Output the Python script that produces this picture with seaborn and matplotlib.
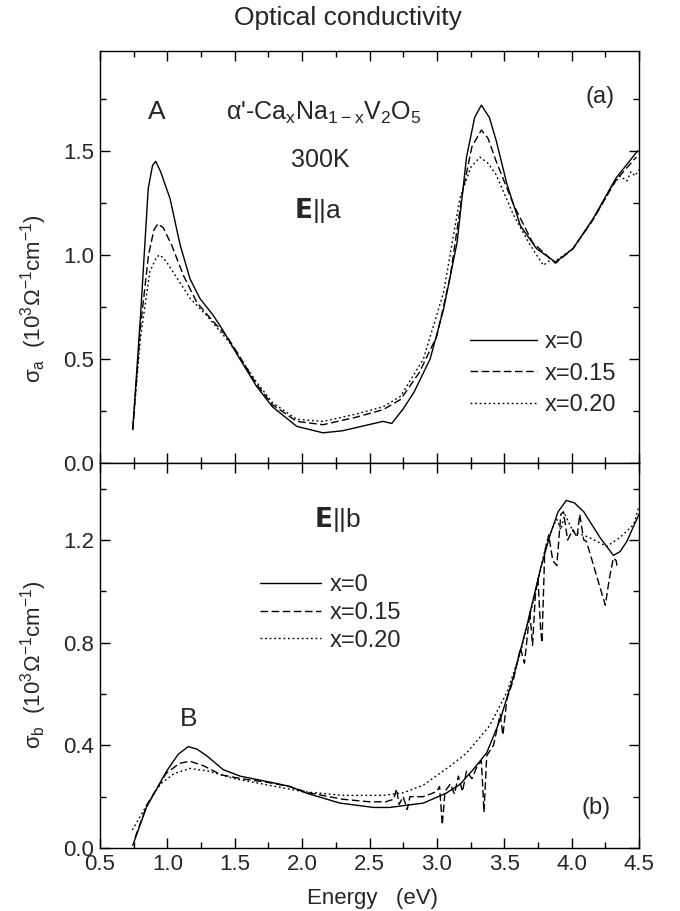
import numpy as np
import pandas as pd
import matplotlib
matplotlib.use("Agg")
import matplotlib.pyplot as plt
import seaborn as sns
from matplotlib.ticker import MultipleLocator, FormatStrFormatter

# sigma_a, E||a
ea_x0 = [0.743, 0.80, 0.858, 0.89, 0.913, 0.95, 1.02, 1.094, 1.168, 1.242, 1.34, 1.41, 1.51,
         1.66, 1.78, 1.96, 2.155, 2.30, 2.40, 2.50, 2.60, 2.665, 2.75, 2.83, 2.95, 3.05, 3.15,
         3.22, 3.28, 3.33, 3.39, 3.44, 3.52, 3.62, 3.74, 3.88, 4.01, 4.16, 4.33, 4.49]
sa_x0 = [0.16, 0.70, 1.32, 1.43, 1.45, 1.40, 1.27, 1.05, 0.885, 0.79, 0.71, 0.64, 0.53,
         0.37, 0.27, 0.176, 0.145, 0.155, 0.17, 0.185, 0.20, 0.19, 0.26, 0.34, 0.50, 0.74, 1.06,
         1.47, 1.66, 1.72, 1.66, 1.55, 1.34, 1.14, 1.03, 0.965, 1.03, 1.175, 1.37, 1.50]

ea_x15 = [0.743, 0.80, 0.86, 0.90, 0.93, 0.97, 1.03, 1.12, 1.22, 1.34, 1.44, 1.51, 1.66, 1.78,
          1.96, 2.155, 2.40, 2.60, 2.73, 2.87, 3.00, 3.10, 3.19, 3.26, 3.33, 3.38, 3.44, 3.57,
          3.71, 3.88, 4.01, 4.16, 4.33, 4.48]
sa_x15 = [0.16, 0.65, 1.00, 1.12, 1.15, 1.13, 1.05, 0.90, 0.77, 0.68, 0.61, 0.54, 0.38, 0.28,
          0.20, 0.184, 0.22, 0.256, 0.305, 0.435, 0.61, 0.90, 1.30, 1.52, 1.60, 1.56, 1.45, 1.24,
          1.06, 0.96, 1.03, 1.17, 1.36, 1.47]

ea_x20 = [0.743, 0.80, 0.87, 0.92, 0.945, 0.99, 1.04, 1.17, 1.29, 1.46, 1.66, 1.78, 1.96, 2.155,
          2.40, 2.60, 2.73, 2.90, 3.05, 3.17, 3.25, 3.32, 3.38, 3.44, 3.57, 3.69, 3.76, 3.79,
          3.83, 3.89, 4.01, 4.16, 4.30, 4.36, 4.41, 4.44, 4.47, 4.50]
sa_x20 = [0.17, 0.60, 0.92, 0.99, 1.00, 0.97, 0.92, 0.79, 0.71, 0.58, 0.39, 0.29, 0.21, 0.20,
          0.235, 0.27, 0.32, 0.50, 0.82, 1.27, 1.42, 1.47, 1.44, 1.385, 1.19, 1.05, 0.98, 0.95,
          0.97, 0.975, 1.03, 1.17, 1.33, 1.38, 1.355, 1.40, 1.38, 1.41]

# sigma_b, E||b
eb_x0 = [0.743, 0.846, 0.995, 1.08, 1.155, 1.22, 1.29, 1.415, 1.54, 1.786, 1.91, 2.03, 2.28,
         2.53, 2.65, 2.90, 3.07, 3.17, 3.27, 3.37, 3.47, 3.57, 3.67, 3.77, 3.84, 3.90, 3.96,
         4.02, 4.09, 4.21, 4.31, 4.36, 4.41, 4.50]
sb_x0 = [0.01, 0.16, 0.30, 0.365, 0.395, 0.385, 0.36, 0.305, 0.28, 0.254, 0.24, 0.214, 0.175,
         0.158, 0.158, 0.175, 0.214, 0.247, 0.306, 0.371, 0.50, 0.67, 0.87, 1.09, 1.22, 1.31,
         1.354, 1.345, 1.31, 1.21, 1.14, 1.155, 1.195, 1.30]

eb_x15 = [0.76, 0.85, 0.99, 1.09, 1.168, 1.27, 1.40, 1.55, 1.75, 1.90, 2.05, 2.30, 2.50, 2.62,
          2.68, 2.70, 2.72, 2.75, 2.78, 2.80, 2.90, 2.95, 3.00, 3.02, 3.04, 3.06, 3.10, 3.13,
          3.16, 3.19, 3.22, 3.26, 3.30, 3.33, 3.35, 3.37, 3.42, 3.47, 3.49, 3.52, 3.57, 3.62,
          3.65, 3.69, 3.71, 3.73, 3.75, 3.77, 3.78, 3.80, 3.83, 3.86, 3.89, 3.92, 3.94, 3.97,
          4.01, 4.04, 4.06, 4.09, 4.11, 4.18, 4.25, 4.28, 4.31, 4.33, 4.34]
sb_x15 = [0.04, 0.17, 0.29, 0.33, 0.338, 0.32, 0.285, 0.27, 0.255, 0.24, 0.215, 0.19, 0.18, 0.18,
          0.19, 0.23, 0.17, 0.20, 0.15, 0.20, 0.20, 0.21, 0.22, 0.24, 0.09, 0.22, 0.25, 0.21,
          0.28, 0.22, 0.30, 0.27, 0.32, 0.34, 0.14, 0.36, 0.40, 0.52, 0.44, 0.58, 0.66, 0.78,
          0.72, 0.92, 0.79, 0.98, 1.05, 0.85, 0.80, 1.15, 1.22, 1.12, 1.10, 1.30, 1.31, 1.20,
          1.24, 1.21, 1.30, 1.20, 1.195, 1.07, 0.946, 1.05, 1.13, 1.12, 1.09]

eb_x20 = [0.74, 0.85, 0.95, 1.05, 1.168, 1.30, 1.50, 1.75, 2.00, 2.30, 2.60, 2.75, 2.90, 3.02,
          3.10, 3.22, 3.39, 3.52, 3.62, 3.72, 3.81, 3.86, 3.89, 3.92, 3.95, 4.01, 4.13, 4.26,
          4.36, 4.46, 4.50]
sb_x20 = [0.07, 0.17, 0.25, 0.29, 0.31, 0.30, 0.27, 0.245, 0.22, 0.205, 0.205, 0.215, 0.245, 0.29,
          0.32, 0.37, 0.475, 0.607, 0.76, 0.97, 1.18, 1.25, 1.28, 1.24, 1.30, 1.234, 1.21, 1.175,
          1.21, 1.26, 1.33]

labels = ["x=0", "x=0.15", "x=0.20"]

sns.set_style("ticks")
plt.rcParams['font.family'] = ['Liberation Sans', 'DejaVu Sans']
plt.rcParams['mathtext.default'] = 'regular'
plt.rcParams['axes.linewidth'] = 1.0

fig = plt.figure(figsize=(6.8, 9.11), dpi=100)
ax1 = fig.add_axes([100 / 680, 1 - 463 / 911, 539 / 680, 412 / 911])
ax2 = fig.add_axes([100 / 680, 1 - 848 / 911, 539 / 680, 385 / 911])

styles = [dict(linestyle="-"), dict(linestyle=(0, (5.5, 2.5))), dict(linestyle=(0, (1.3, 2.0)))]

top = [(ea_x0, sa_x0), (ea_x15, sa_x15), (ea_x20, sa_x20)]
bot = [(eb_x0, sb_x0), (eb_x15, sb_x15), (eb_x20, sb_x20)]

for ax, series in [(ax1, top), (ax2, bot)]:
    for (e, s), lab, st in zip(series, labels, styles):
        sns.lineplot(x=e, y=s, ax=ax, color="black", lw=1.0, sort=False,
                     estimator=None, label=lab, **st)

fs = 16
for ax in (ax1, ax2):
    ax.set_xlim(0.5, 4.5)
    ax.xaxis.set_major_locator(MultipleLocator(0.5))
    ax.xaxis.set_minor_locator(MultipleLocator(0.25))
    ax.xaxis.set_major_formatter(FormatStrFormatter('%.1f'))
    ax.tick_params(which="both", direction="in", top=True, right=True, labelsize=fs, color="black")
    ax.tick_params(which="major", length=7, width=1.0, pad=4)
    ax.tick_params(which="minor", length=4, width=1.0)
    for sp in ax.spines.values():
        sp.set_color("black")

ax1.set_ylim(0, 1.98)
ax1.yaxis.set_major_locator(MultipleLocator(0.5))
ax1.yaxis.set_minor_locator(MultipleLocator(0.25))
ax1.yaxis.set_major_formatter(FormatStrFormatter('%.1f'))
ax1.tick_params(labelbottom=False)

ax2.set_ylim(0, 1.5)
ax2.yaxis.set_major_locator(MultipleLocator(0.4))
ax2.yaxis.set_minor_locator(MultipleLocator(0.2))
ax2.yaxis.set_major_formatter(FormatStrFormatter('%.1f'))

ax1.set_ylabel(r"$\sigma_a$  (10$^3\Omega^{-1}$cm$^{-1}$)", fontsize=fs)
ax1.yaxis.set_label_coords(-0.095, 0.40)
ax2.set_ylabel(r"$\sigma_b$  (10$^3\Omega^{-1}$cm$^{-1}$)", fontsize=fs)
ax2.yaxis.set_label_coords(-0.095, 0.475)
ax1.set_xlabel("")
ax2.set_xlabel("Energy   (eV)", fontsize=fs)
ax2.xaxis.set_label_coords(0.506, -0.105)

leg_fs = 17
leg_kw = dict(frameon=False, fontsize=leg_fs, borderpad=0, borderaxespad=0,
              handletextpad=0.34, loc="upper left")
ax1.legend(bbox_to_anchor=(0.686, 0.32), handlelength=2.85, labelspacing=0.4, **leg_kw)
ax2.legend(bbox_to_anchor=(0.297, 0.712), handlelength=2.6, labelspacing=0.25, **leg_kw)

ax1.text(0.106, 0.852, "A", transform=ax1.transAxes, fontsize=19, ha="center", va="center")
ax1.text(0.416, 0.833, "α'-Ca$_x$Na$_{1-x}$V$_2$O$_5$", transform=ax1.transAxes,
         fontsize=18, ha="center", va="baseline")
ax1.text(0.408, 0.718, "300K", transform=ax1.transAxes, fontsize=18, ha="center", va="baseline")
ax1.text(0.405, 0.595, r"$\mathbf{E}$||a", transform=ax1.transAxes, fontsize=19,
         ha="center", va="baseline")
ax1.text(0.928, 0.888, "(a)", transform=ax1.transAxes, fontsize=17, ha="center", va="center")

ax2.text(0.441, 0.834, r"$\mathbf{E}$||b", transform=ax2.transAxes, fontsize=19,
         ha="center", va="baseline")
ax2.text(0.165, 0.335, "B", transform=ax2.transAxes, fontsize=19, ha="center", va="center")
ax2.text(0.92, 0.104, "(b)", transform=ax2.transAxes, fontsize=17, ha="center", va="center")

fig.text(0.511, 0.98, "Optical conductivity", fontsize=19, ha="center", va="center")

fig.savefig("out.png", dpi=100)
